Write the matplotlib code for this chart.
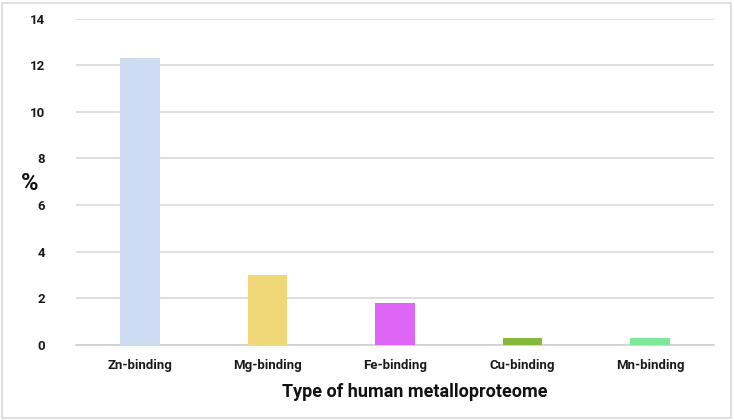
import matplotlib
matplotlib.use("Agg")
import matplotlib.pyplot as plt
from matplotlib.patches import Rectangle

categories = ["Zn-binding", "Mg-binding", "Fe-binding", "Cu-binding", "Mn-binding"]
values = [12.3, 3.0, 1.8, 0.3, 0.3]
colors = ["#CDDCF0", "#F0D878", "#DD66F7", "#84B93A", "#7EE89A"]
yticks = [0, 2, 4, 6, 8, 10, 12, 14]

plt.rcParams['font.family'] = ['Roboto', 'DejaVu Sans']

fig = plt.figure(figsize=(7.34, 4.20), dpi=100)
ax = fig.add_axes([76/734, 75/420, 638/734, (345-18.5)/420])

x = list(range(len(categories)))
ax.bar(x, values, width=0.31, color=colors, zorder=3)
ax.set_xlim(-0.5, len(categories) - 0.5)
ax.set_ylim(0, 14)
ax.set_yticks(yticks)
ax.set_xticks(x)
ax.set_xticklabels(categories, fontsize=9.5, fontweight='bold', color='#1a1a1a')
ax.set_yticklabels([str(v) for v in yticks], fontsize=9.5, fontweight='bold', color='#1a1a1a')
ax.tick_params(axis='both', length=0)
ax.tick_params(axis='y', pad=22)
ax.tick_params(axis='x', pad=10)
ax.grid(axis='y', color='#D9D9D9', linewidth=1.2, zorder=0)
for s in ['top', 'right', 'left']:
    ax.spines[s].set_visible(False)
ax.spines['bottom'].set_color('#D0D0D0')
ax.spines['bottom'].set_linewidth(1.2)

ax.set_xlabel("Type of human metalloproteome", fontsize=13, fontweight='bold', labelpad=8, color='#111111')
ax.xaxis.label.set_x((415 - 76) / 638)
fig.text(30/734, 1 - 183/420, "%", fontsize=17, fontweight='bold', ha='center', va='center', color='#111111')

fig.patches.append(Rectangle((2/734, 2/420), 729/734, 415/420, transform=fig.transFigure,
                             fill=False, edgecolor='#D9D9D9', linewidth=1.2))

fig.savefig("out.png", dpi=100)
